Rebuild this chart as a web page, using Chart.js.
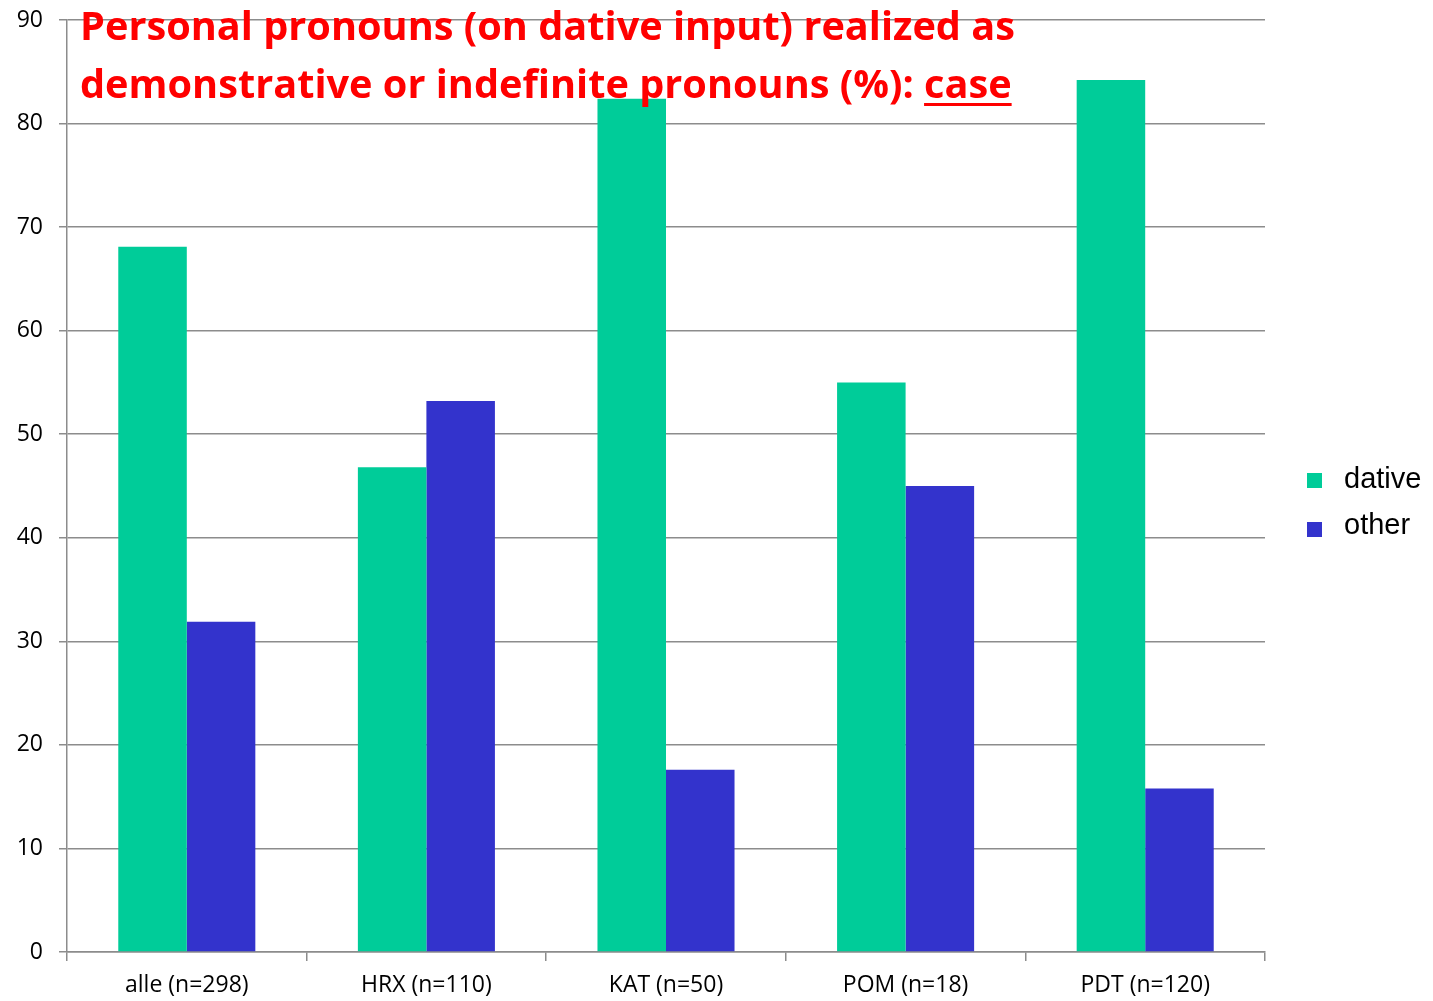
<!DOCTYPE html>
<html>
<head>
<meta charset="utf-8">
<script src="https://cdn.jsdelivr.net/npm/chart.js@4/dist/chart.umd.min.js"></script>
<style>
  html, body { margin: 0; padding: 0; background: #fff; }
  #wrap { width: 1433px; height: 1001px; position: relative; }
</style>
</head>
<body>
<div id="wrap"><canvas id="chart"></canvas></div>
<script>
// Data
const categories = ['alle (n=298)', 'HRX (n=110)', 'KAT (n=50)', 'POM (n=18)', 'PDT (n=120)'];
const dativeValues = [68.1, 46.8, 82.4, 55.0, 84.2];
const otherValues = [31.9, 53.2, 17.6, 45.0, 15.8];
const seriesNames = ['dative', 'other'];
const seriesColors = ['#00cc99', '#3333cc'];
const titleLines = ['Personal pronouns (on dative input) realized as', 'demonstrative or indefinite pronouns (%): '];
const titleTail = 'case';

const gridColor = '#8c8c8c';

// title is drawn over the plot, on top of bars and gridlines
const overlayTitle = {
    id: 'overlayTitle',
    afterDraw(chart) {
        const ctx = chart.ctx;
        ctx.save();
        ctx.fillStyle = '#ff0000';
        ctx.font = 'bold 39px "Open Sans"';
        ctx.textBaseline = 'alphabetic';
        ctx.textAlign = 'left';
        const w1 = ctx.measureText(titleLines[0]).width;
        const scale = 935 / w1;
        ctx.translate(80, 0);
        ctx.scale(scale, 1);
        ctx.fillText(titleLines[0], 0, 40);
        ctx.fillText(titleLines[1], 0, 98);
        const lead = ctx.measureText(titleLines[1]).width;
        const tail = ctx.measureText(titleTail).width;
        ctx.fillText(titleTail, lead, 98);
        ctx.fillRect(lead, 103, tail, 3);
        ctx.restore();
    }
};

// legend in the right margin, vertically centred on the plot
const sideLegend = {
    id: 'sideLegend',
    afterDraw(chart) {
        const ctx = chart.ctx;
        const area = chart.chartArea;
        ctx.save();
        ctx.font = '29px "Liberation Sans", Arial';
        ctx.textBaseline = 'middle';
        ctx.textAlign = 'left';
        const rowGap = 46;
        const y0 = (area.top + area.bottom) / 2 - 6;
        chart.data.datasets.forEach((ds, i) => {
            const y = y0 + i * rowGap;
            ctx.fillStyle = ds.backgroundColor;
            ctx.fillRect(area.right + 42, y - 7 + i * 3, 15, 15);
            ctx.fillStyle = '#000';
            ctx.fillText(ds.label, area.right + 79, y);
        });
        ctx.restore();
    }
};

const ctx = document.getElementById('chart').getContext('2d');
new Chart(ctx, {
    type: 'bar',
    data: {
        labels: categories,
        datasets: [{
            label: seriesNames[0],
            data: dativeValues,
            backgroundColor: seriesColors[0],
            categoryPercentage: 0.572,
            barPercentage: 1.0
        }, {
            label: seriesNames[1],
            data: otherValues,
            backgroundColor: seriesColors[1],
            categoryPercentage: 0.572,
            barPercentage: 1.0
        }]
    },
    options: {
        responsive: true,
        maintainAspectRatio: false,
        animation: false,
        layout: { padding: { left: 8, top: 20, right: 168, bottom: 0 } },
        plugins: {
            title: { display: false },
            tooltip: { enabled: false },
            legend: { display: false }
        },
        scales: {
            x: {
                grid: {
                    drawOnChartArea: false,
                    drawTicks: true,
                    tickLength: 9,
                    color: gridColor,
                    lineWidth: 1.5,
                    offset: true
                },
                border: { color: gridColor, width: 1.5 },
                ticks: {
                    color: '#000',
                    padding: 11,
                    font: { family: '"Open Sans"', size: 23 }
                },
                afterFit(scale) { scale.height = 49; }
            },
            y: {
                min: 0,
                max: 90,
                grid: {
                    color: gridColor,
                    lineWidth: 1.5,
                    tickLength: 8
                },
                border: { color: gridColor, width: 1.5 },
                ticks: {
                    stepSize: 10,
                    color: '#000',
                    padding: 16,
                    font: { family: '"Open Sans"', size: 23 }
                },
                afterFit(scale) {
                    scale.width = 59;
                    scale.paddingTop = 0;
                    scale.paddingBottom = 0;
                }
            }
        }
    },
    plugins: [overlayTitle, sideLegend]
});
</script>
</body>
</html>
